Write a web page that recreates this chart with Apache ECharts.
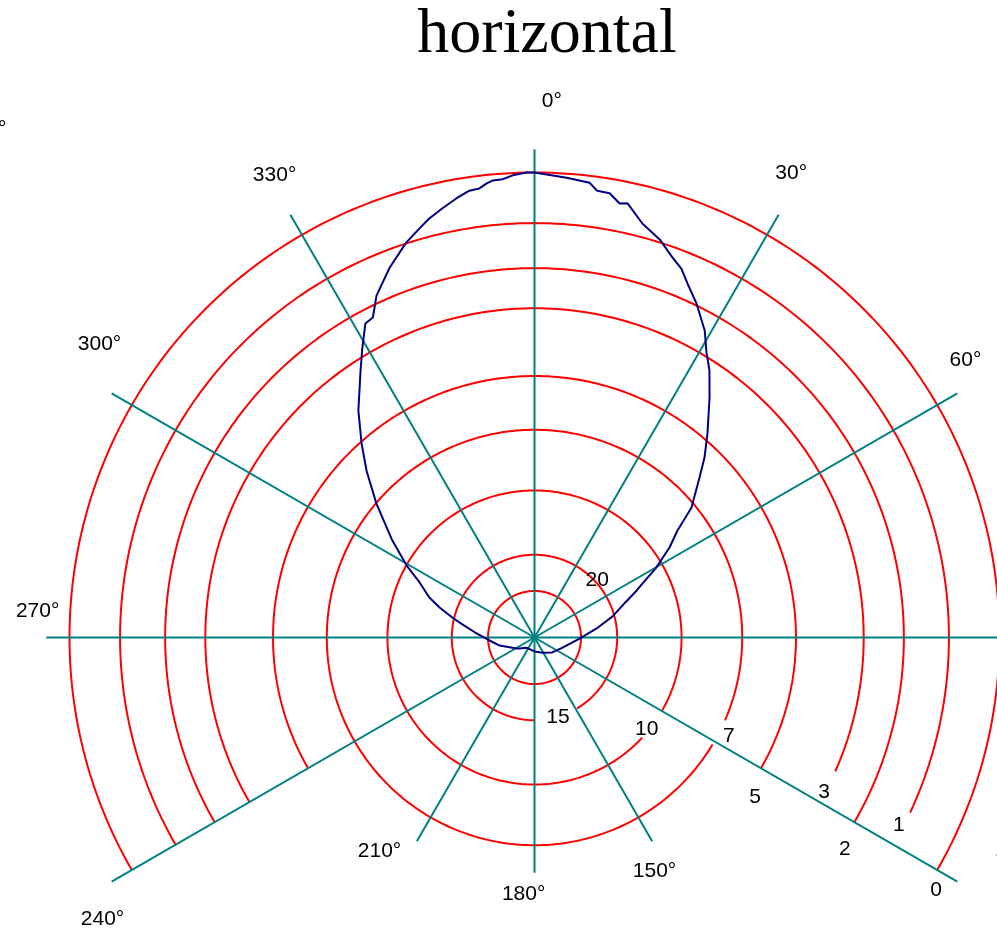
<!DOCTYPE html>
<html>
<head>
<meta charset="utf-8">
<script src="https://cdn.jsdelivr.net/npm/echarts@6/dist/echarts.min.js"></script>
<style>
html,body{margin:0;padding:0;background:#fff;}
#chart{width:997px;height:932px;}
</style>
</head>
<body>
<div id="chart"></div>
<script>
// ---- data ----
const titleText = 'horizontal';
// ring levels (dB below maximum)
const ringDb = [0, 1, 2, 3, 5, 7, 10, 15, 20];
const ringLabels = ['0', '1', '2', '3', '5', '7', '10', '15', '20'];
// arc extent of each ring (compass degrees, clockwise from top)
const ringArcFrom = [240, 240, 240, 240, 240, 121, 133, 180, 0];
const ringArcTo   = [480, 475, 480, 474, 480, 473.5, 480, 509, 360];
// spoke angles and their ticks
const spokeAngles = [0, 30, 60, 90, 120, 150, 180, 210, 240, 270, 300, 330];
const angleTickLabels = ['0°', '30°', '60°', '150°', '180°', '210°', '240°', '270°', '300°', '330°'];
// measured antenna pattern (angle in degrees, relative field amplitude)
const patternAngle = [0, 4.0, 6.9, 8.0, 9.6, 11.1, 12.1, 14.6, 17.5, 19.9, 21.7, 23.4, 25.9, 29.0, 31.1, 33.2, 36.1, 40.3, 43.4, 45.9, 50.4, 53.2, 56.3, 60.3, 63.4, 65.3, 68.8, 74.9, 81.7, 91.3, 109.7, 129.8, 152, 180, 218.7, 233.7, 238.6, 257, 266.2, 275, 281.3, 283.7, 287.5, 290.8, 295.6, 299.4, 304.3, 308.3, 310.3, 314.8, 318.3, 322.2, 326.9, 329.3, 331.7, 333.2, 335.2, 338.6, 342.0, 344.3, 345.9, 347.9, 349.9, 351.7, 353.0, 354.0, 354.8, 356.0, 357.3, 359, 360];
const patternAmp   = [1.0, 0.991, 0.985, 0.970, 0.969, 0.951, 0.955, 0.920, 0.897, 0.870, 0.854, 0.829, 0.798, 0.755, 0.716, 0.687, 0.639, 0.575, 0.532, 0.494, 0.438, 0.384, 0.349, 0.300, 0.260, 0.242, 0.210, 0.174, 0.135, 0.097, 0.064, 0.050, 0.037, 0.030, 0.028, 0.040, 0.045, 0.077, 0.097, 0.129, 0.164, 0.182, 0.214, 0.242, 0.274, 0.316, 0.370, 0.417, 0.446, 0.509, 0.559, 0.618, 0.685, 0.725, 0.767, 0.771, 0.810, 0.854, 0.893, 0.914, 0.929, 0.944, 0.959, 0.971, 0.973, 0.982, 0.987, 0.988, 0.995, 1.0, 1.0];

// ---- layout (label placement in polar units: [radius, angle]) ----
const ringLabelAt = [[1.022, 122.2], [0.883, 117.3], [0.809, 124.3], [0.707, 118.1], [0.587, 125.9], [0.470, 116.9], [0.313, 129.2], [0.180, 163.3], [0.183, 47.9]];
const angleLabelAt = [[1.152, 1.9], [1.141, 29.0], [1.102, 57.35], [0.567, 152.8], [0.554, 182.3], [0.568, 215.8], [1.109, 236.8], [1.069, 273.0], [1.127, 304.0], [1.140, 330.7]];
const SPOKE_LONG = 1.05, SPOKE_SHORT = 0.506;
const UNIT_PX = 465, CX = 534.5, CY = 637.5, RMAX = 1.7;

const chart = echarts.init(document.getElementById('chart'));
const series = [];

// rings
ringDb.forEach((db, i) => {
  const amp = Math.pow(10, -db / 20);
  const pts = [];
  for (let a = ringArcFrom[i]; a < ringArcTo[i]; a += 1) pts.push([amp, a % 360]);
  pts.push([amp, ringArcTo[i] % 360]);
  series.push({
    type: 'line', coordinateSystem: 'polar', data: pts, symbol: 'none', silent: true,
    lineStyle: { color: '#ff0000', width: 2 }, z: 2
  });
});
// spokes
spokeAngles.forEach(a => {
  const len = (a === 150 || a === 180 || a === 210) ? SPOKE_SHORT : SPOKE_LONG;
  series.push({
    type: 'line', coordinateSystem: 'polar', data: [[0, a], [len, a]], symbol: 'none', silent: true,
    lineStyle: { color: '#008080', width: 2 }, z: 3
  });
});
// pattern
series.push({
  type: 'line', coordinateSystem: 'polar', symbol: 'none', silent: true,
  data: patternAngle.map((a, i) => [patternAmp[i], a]),
  lineStyle: { color: '#000080', width: 2 }, z: 4
});
// labels
const labelStyle = {
  show: true, position: [0, 0], align: 'center', verticalAlign: 'middle',
  fontFamily: 'Liberation Sans', fontSize: 21, color: '#000000', opacity: 1,
  textBorderWidth: 0, textShadowBlur: 0, formatter: p => p.name
};
series.push({
  type: 'scatter', coordinateSystem: 'polar', symbolSize: 1, silent: true, z: 5,
  itemStyle: { color: 'rgba(0,0,0,0)', opacity: 1 },
  data: ringLabels.map((t, i) => ({ value: ringLabelAt[i], name: t })),
  label: labelStyle
});
series.push({
  type: 'scatter', coordinateSystem: 'polar', symbolSize: 1, silent: true, z: 5,
  itemStyle: { color: 'rgba(0,0,0,0)', opacity: 1 },
  data: angleTickLabels.map((t, i) => ({ value: angleLabelAt[i], name: t })),
  label: labelStyle
});

chart.setOption({
  animation: false,
  backgroundColor: '#fff',
  polar: { center: [CX, CY], radius: RMAX * UNIT_PX },
  angleAxis: { type: 'value', min: 0, max: 360, startAngle: 90, clockwise: true, show: false },
  radiusAxis: { type: 'value', min: 0, max: RMAX, show: false },
  graphic: [
    { type: 'text', silent: true, style: { text: titleText, x: 547, y: 35, align: 'center', verticalAlign: 'middle', font: '64px "Liberation Serif"', fill: '#000' } },
    { type: 'text', silent: true, style: { text: '90°', x: 6.5, y: 129.5, align: 'right', verticalAlign: 'middle', font: '21px "Liberation Sans"', fill: '#000' } },
    { type: 'text', silent: true, style: { text: '120°', x: 995, y: 850, align: 'left', verticalAlign: 'middle', font: '21px "Liberation Sans"', fill: '#000' } }
  ],
  series: series
});
</script>
</body>
</html>
